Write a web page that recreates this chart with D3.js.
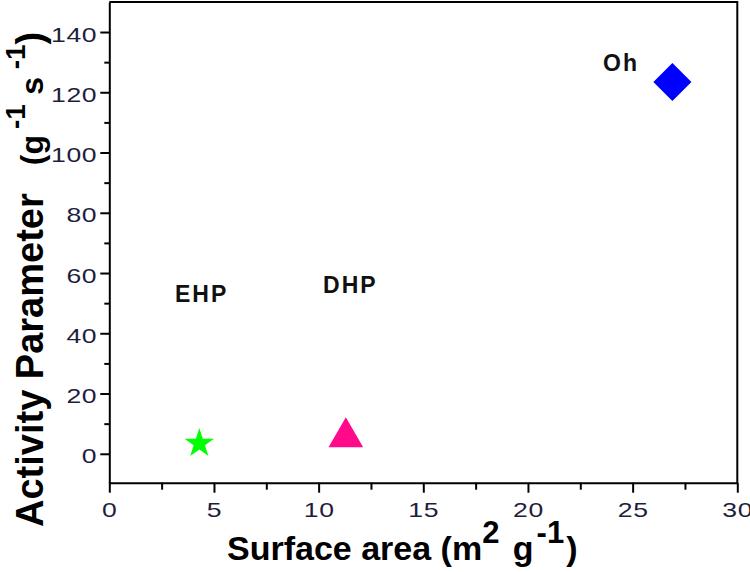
<!DOCTYPE html>
<html>
<head>
<meta charset="utf-8">
<script src="https://cdn.jsdelivr.net/npm/d3@7"></script>
<style>
  html, body { margin: 0; padding: 0; background: #fff; }
  svg { display: block; }
</style>
</head>
<body>
<svg id="chart" width="750" height="572"></svg>
<script>
// ---- data ----
const categories = ["EHP", "DHP", "Oh"];
const surfaceArea = [4.3, 11.3, 26.9];      // m2 g-1
const activity = [3.4, 5.5, 123.4];         // g-1 s-1
const symbols = ["star", "triangle", "diamond"];
const colors = ["#00ff00", "#ff0a8a", "#0000ff"];
// annotation anchors, in data units
const labelX = [3.14, 10.21, 23.59];
const labelY = [50.4, 53.4, 127];

const xTicks = [0, 5, 10, 15, 20, 25, 30];
const xMinor = [2.5, 7.5, 12.5, 17.5, 22.5, 27.5];
const yTicks = [0, 20, 40, 60, 80, 100, 120, 140];
const yMinor = [10, 30, 50, 70, 90, 110, 130];

// ---- layout ----
const svg = d3.select("#chart");
const mLeft = 109.3, mRight = 737.3, mTop = 1.9, mBottom = 482.7;

const x = d3.scaleLinear().domain([0, 30]).range([mLeft, mRight]);
const y = d3.scaleLinear().domain([-9.6, 150]).range([mBottom, mTop]);

const tickColor = "#1e1e3c";
const stretch = 1.33;

// frame (top & right)
svg.append("path")
  .attr("d", `M${mLeft},${mTop}H${mRight}V${mBottom}`)
  .attr("fill", "none").attr("stroke", "#000").attr("stroke-width", 2);

// x axis
const gx = svg.append("g").attr("transform", `translate(0,${mBottom})`);
gx.call(d3.axisBottom(x).tickValues(xTicks).tickSize(10).tickSizeOuter(0).tickPadding(10).tickFormat(d3.format("d")));
gx.append("g").call(d3.axisBottom(x).tickValues(xMinor).tickSize(7).tickSizeOuter(0).tickFormat(""))
  .select(".domain").remove();

// y axis
const gy = svg.append("g").attr("transform", `translate(${mLeft},0)`);
gy.call(d3.axisLeft(y).tickValues(yTicks).tickSize(9).tickSizeOuter(0).tickPadding(3).tickFormat(d3.format("d")));
gy.append("g").call(d3.axisLeft(y).tickValues(yMinor).tickSize(5).tickSizeOuter(0).tickFormat(""))
  .select(".domain").remove();

svg.selectAll(".domain").attr("stroke", "#000").attr("stroke-width", 2);
svg.selectAll(".tick line").attr("stroke", "#000").attr("stroke-width", 2);
svg.selectAll(".tick text")
  .attr("font-family", "'Liberation Sans', Arial, sans-serif")
  .attr("font-size", 20)
  .attr("letter-spacing", "0.5px")
  .attr("fill", tickColor);
gy.selectAll(".tick text")
  .attr("dy", "0.45em")
  .attr("x", -12 / stretch)
  .attr("transform", `scale(${stretch},1)`);
gx.selectAll(".tick text")
  .attr("transform", `scale(${stretch},1)`);

// ---- markers ----
const symType = { star: d3.symbolStar, triangle: d3.symbolTriangle, diamond: d3.symbolSquare };
const symSize = { star: 270, triangle: 520, diamond: 723 };
const symRot = { star: 0, triangle: 0, diamond: 45 };

svg.append("g").selectAll("path")
  .data(categories.map((c, i) => ({ c, x: surfaceArea[i], y: activity[i], s: symbols[i], col: colors[i] })))
  .join("path")
  .attr("transform", d => `translate(${x(d.x)},${y(d.y)}) rotate(${symRot[d.s]})`)
  .attr("d", d => d3.symbol(symType[d.s], symSize[d.s])())
  .attr("fill", d => d.col);

// ---- labels ----
svg.append("g").selectAll("text")
  .data(categories.map((c, i) => ({ c, x: labelX[i], y: labelY[i] })))
  .join("text")
  .attr("x", d => x(d.x)).attr("y", d => y(d.y))
  .attr("font-family", "'Liberation Sans', Arial, sans-serif")
  .attr("font-weight", "bold")
  .attr("font-size", 23)
  .attr("letter-spacing", "2px")
  .attr("fill", "#111")
  .text(d => d.c);

// ---- axis titles ----
const xt = svg.append("text")
  .attr("x", 227).attr("y", 559.5)
  .attr("font-family", "'Liberation Sans', Arial, sans-serif")
  .attr("font-weight", "bold")
  .attr("font-size", 34)
  .attr("fill", "#000");
xt.append("tspan").text("Surface area (m");
xt.append("tspan").attr("font-size", 31).attr("dy", -16.5).attr("dx", 0).text("2");
xt.append("tspan").attr("dy", 16.5).attr("dx", 4).text(" g");
xt.append("tspan").attr("font-size", 31).attr("dy", -16.5).attr("dx", 3).text("-1");
xt.append("tspan").attr("dy", 16.5).attr("dx", 2).text(")");

const yt = svg.append("text")
  .attr("transform", "translate(43,527) rotate(-90)")
  .attr("font-family", "'Liberation Sans', Arial, sans-serif")
  .attr("font-weight", "bold")
  .attr("font-size", 38)
  .attr("fill", "#000");
yt.append("tspan").text("Activity Parameter");
yt.append("tspan").attr("font-size", 32).attr("dx", 28).text("(g");
yt.append("tspan").attr("font-size", 28).attr("dy", -18).attr("dx", 6).text("-1");
yt.append("tspan").attr("font-size", 32).attr("dy", 18).attr("dx", 9.5).text("s");
yt.append("tspan").attr("font-size", 28).attr("dy", -18).attr("dx", 7.5).text("-1");
yt.append("tspan").attr("font-size", 38).attr("dy", 18).attr("dx", 0).text(")");
</script>
</body>
</html>
